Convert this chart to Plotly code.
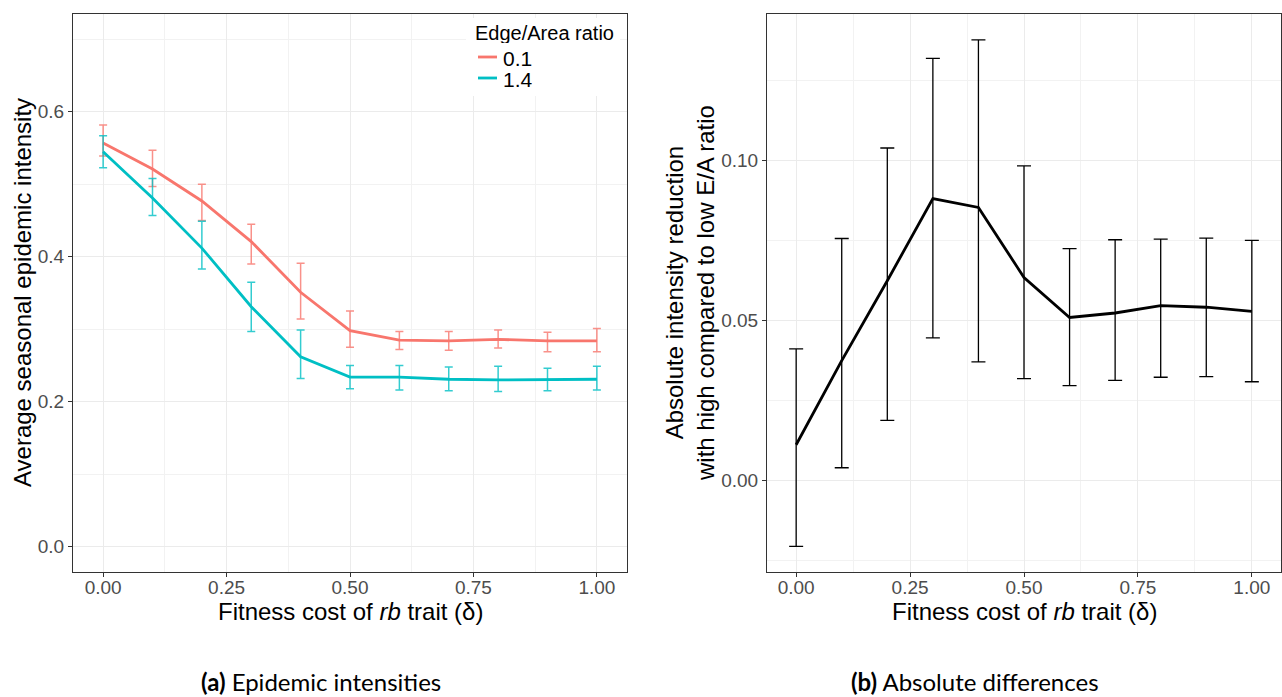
import plotly.graph_objects as go
from plotly.subplots import make_subplots

# Fitness cost of the rb trait
delta = [0.0, 0.1, 0.2, 0.3, 0.4, 0.5, 0.6, 0.7, 0.8, 0.9, 1.0]

# Average seasonal epidemic intensity, Edge/Area ratio 0.1
low_mean = [0.557, 0.521, 0.477, 0.421, 0.351, 0.298, 0.285, 0.284, 0.286, 0.284, 0.284]
low_lo = [0.539, 0.497, 0.450, 0.390, 0.314, 0.275, 0.272, 0.271, 0.274, 0.269, 0.269]
low_hi = [0.582, 0.547, 0.500, 0.445, 0.391, 0.325, 0.297, 0.297, 0.299, 0.296, 0.301]

# Average seasonal epidemic intensity, Edge/Area ratio 1.4
high_mean = [0.545, 0.481, 0.412, 0.331, 0.262, 0.234, 0.234, 0.231, 0.230, 0.230, 0.231]
high_lo = [0.523, 0.457, 0.383, 0.297, 0.232, 0.218, 0.216, 0.215, 0.214, 0.215, 0.216]
high_hi = [0.567, 0.508, 0.449, 0.365, 0.299, 0.250, 0.250, 0.248, 0.249, 0.246, 0.249]

# Absolute intensity reduction (low minus high E/A ratio)
diff_mean = [0.0112, 0.0375, 0.0625, 0.0882, 0.0854, 0.0635, 0.0510, 0.0524, 0.0547, 0.0542, 0.0529]
diff_lo = [-0.0206, 0.0040, 0.0188, 0.0446, 0.0371, 0.0319, 0.0297, 0.0313, 0.0323, 0.0325, 0.0309]
diff_hi = [0.0412, 0.0757, 0.1040, 0.1320, 0.1378, 0.0984, 0.0725, 0.0753, 0.0755, 0.0758, 0.0751]

series_names = ["0.1", "1.4"]
x_ticks = [0.0, 0.25, 0.5, 0.75, 1.0]
x_tick_text = ["0.00", "0.25", "0.50", "0.75", "1.00"]
y1_ticks = [0.0, 0.2, 0.4, 0.6]
y1_tick_text = ["0.0", "0.2", "0.4", "0.6"]
y2_ticks = [0.0, 0.05, 0.10]
y2_tick_text = ["0.00", "0.05", "0.10"]

RED = "#F8766D"
TEAL = "#00BFC4"
RED_BAR = "rgba(248,118,109,0.8)"
TEAL_BAR = "rgba(0,191,196,0.8)"

W, H = 1282, 697


def px_x(p):
    return p / W


def px_y(p):
    return 1 - p / H


fig = make_subplots(rows=1, cols=2)

for mean, lo, hi, col, bar_col, name in [
    (low_mean, low_lo, low_hi, RED, RED_BAR, series_names[0]),
    (high_mean, high_lo, high_hi, TEAL, TEAL_BAR, series_names[1]),
]:
    fig.add_trace(
        go.Scatter(
            x=delta, y=mean, mode="lines", name=name,
            line=dict(color=col, width=2.8),
            error_y=dict(
                type="data", symmetric=False,
                array=[h - m for h, m in zip(hi, mean)],
                arrayminus=[m - l for m, l in zip(mean, lo)],
                color=bar_col, thickness=1.5, width=4,
            ),
            showlegend=False,
        ),
        row=1, col=1,
    )

fig.add_trace(
    go.Scatter(
        x=delta, y=diff_mean, mode="lines",
        line=dict(color="black", width=2.8),
        error_y=dict(
            type="data", symmetric=False,
            array=[h - m for h, m in zip(diff_hi, diff_mean)],
            arrayminus=[m - l for m, l in zip(diff_mean, diff_lo)],
            color="black", thickness=1.3, width=7,
        ),
        showlegend=False,
    ),
    row=1, col=2,
)

axis_common = dict(
    showline=True, mirror=True, linecolor="#333333", linewidth=1,
    ticks="outside", ticklen=4, tickcolor="#333333", tickwidth=1,
    showgrid=True, gridcolor="#EBEBEB", gridwidth=1.2,
    zeroline=False, automargin=False,
    tickfont=dict(family="Liberation Sans", size=19, color="#4D4D4D"),
)

fig.update_xaxes(
    **axis_common,
    tickvals=x_ticks, ticktext=x_tick_text,
    ticklabelstandoff=-6,
    minor=dict(tickvals=[0.125, 0.375, 0.625, 0.875], showgrid=True,
               gridcolor="#F2F2F2", gridwidth=0.8, ticks=""),
)
fig.update_xaxes(range=[-0.061, 1.061], domain=[px_x(73), px_x(627)], row=1, col=1)
fig.update_xaxes(range=[-0.064, 1.064], domain=[px_x(767), px_x(1281)], row=1, col=2)

fig.update_yaxes(
    **axis_common,
    range=[-0.035, 0.735], domain=[px_y(572), px_y(14)],
    tickvals=y1_ticks, ticktext=y1_tick_text,
    minor=dict(tickvals=[0.1, 0.3, 0.5, 0.7], showgrid=True,
               gridcolor="#F2F2F2", gridwidth=0.8, ticks=""),
    row=1, col=1,
)
fig.update_yaxes(
    **axis_common,
    range=[-0.0286, 0.1459], domain=[px_y(572), px_y(14)],
    tickvals=y2_ticks, ticktext=y2_tick_text,
    minor=dict(tickvals=[-0.025, 0.025, 0.075, 0.125], showgrid=True,
               gridcolor="#F2F2F2", gridwidth=0.8, ticks=""),
    row=1, col=2,
)

title_font = dict(family="Liberation Sans", size=24, color="black")
caption_font = dict(family="Lato", size=24, color="black")
legend_title_font = dict(family="Liberation Sans", size=20, color="black")
legend_item_font = dict(family="Liberation Sans", size=21, color="black")


def note(x, y, text, font, **kw):
    return dict(x=px_x(x), y=px_y(y), xref="paper", yref="paper", text=text,
                font=font, showarrow=False, yanchor="middle", **kw)


annotations = [
    # axis titles
    note(350, 611, "Fitness cost of <i>rb</i> trait (δ)", title_font, xanchor="center"),
    note(1024, 611, "Fitness cost of <i>rb</i> trait (δ)", title_font, xanchor="center"),
    note(22, 293, "Average seasonal epidemic intensity", title_font,
         xanchor="center", textangle=-90),
    note(690, 293, "Absolute intensity reduction<br>with high compared to low E/A ratio",
         title_font, xanchor="center", textangle=-90),
    # panel captions
    note(321, 681, "<b>(a)</b> Epidemic intensities", caption_font, xanchor="center"),
    note(975, 681, "<b>(b)</b> Absolute differences", caption_font, xanchor="center"),
    # legend text
    note(473, 33, "Edge/Area ratio", legend_title_font, xanchor="left", height=20),
    note(502, 58, series_names[0], legend_item_font, xanchor="left",
         height=20, borderpad=0),
    note(502, 79, series_names[1], legend_item_font, xanchor="left",
         height=20, borderpad=0),
]

shapes = [
    # legend background and keys
    dict(type="rect", xref="paper", yref="paper",
         x0=px_x(466), x1=px_x(620), y0=px_y(96), y1=px_y(18),
         fillcolor="white", line=dict(width=0), layer="above"),
    dict(type="line", xref="paper", yref="paper",
         x0=px_x(478), x1=px_x(497), y0=px_y(57), y1=px_y(57),
         line=dict(color=RED, width=2.8), layer="above"),
    dict(type="line", xref="paper", yref="paper",
         x0=px_x(478), x1=px_x(497), y0=px_y(78), y1=px_y(78),
         line=dict(color=TEAL, width=2.8), layer="above"),
]

fig.update_layout(
    width=W, height=H,
    margin=dict(l=0, r=0, t=0, b=0),
    paper_bgcolor="white", plot_bgcolor="white",
    template="none",
    showlegend=False,
    annotations=annotations,
    shapes=shapes,
)

fig.write_html("out.html")
